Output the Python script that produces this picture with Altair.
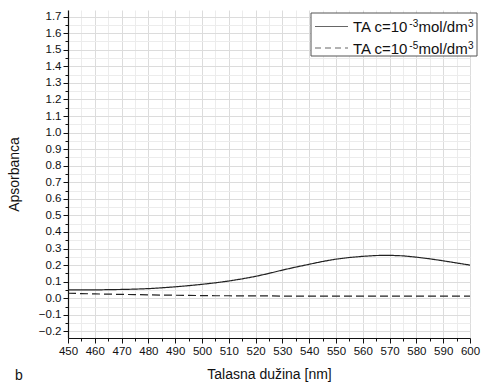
import altair as alt
import pandas as pd

wavelength = [450, 455, 460, 465, 470, 475, 480, 485, 490, 495, 500, 505, 510, 515, 520, 525,
              530, 535, 540, 545, 550, 555, 560, 565, 570, 575, 580, 585, 590, 595, 600]
abs_1e3 = [0.050, 0.051, 0.050, 0.052, 0.053, 0.055, 0.058, 0.063, 0.069, 0.076, 0.084, 0.093,
           0.104, 0.117, 0.132, 0.150, 0.170, 0.188, 0.205, 0.222, 0.236, 0.246, 0.253, 0.258,
           0.259, 0.256, 0.248, 0.238, 0.226, 0.213, 0.200]
abs_1e5 = [0.030, 0.028, 0.026, 0.025, 0.023, 0.022, 0.020, 0.019, 0.018, 0.017, 0.016, 0.015,
           0.015, 0.014, 0.014, 0.014, 0.013, 0.013, 0.013, 0.013, 0.013, 0.013, 0.013, 0.013,
           0.013, 0.013, 0.013, 0.013, 0.013, 0.013, 0.013]
series_names = ["TA c=10-3 mol/dm3", "TA c=10-5 mol/dm3"]
legend_main = "TA c=10"
legend_sup = ["-3", "-5"]
legend_unit = "mol/dm"
legend_unit_sup = "3"

x_ticks = list(range(450, 605, 5))
y_ticks = [round(-0.2 + 0.05 * i, 2) for i in range(39)]

rows = []
for w, a, b in zip(wavelength, abs_1e3, abs_1e5):
    rows.append({"wl": w, "abs": a, "series": series_names[0]})
    rows.append({"wl": w, "abs": b, "series": series_names[1]})
df = pd.DataFrame(rows)

FONT = "Liberation Sans"
TXT = "#111111"

x_enc = alt.X("wl:Q", scale=alt.Scale(domain=[450, 600], nice=False, zero=False),
              axis=alt.Axis(values=x_ticks, title="Talasna dužina [nm]",
                            labelExpr="datum.value % 10 == 0 ? datum.label : ''",
                            format="d", labelOverlap=False, labelFlush=False,
                            tickSize={"condition": {"test": "datum.value % 10 == 0", "value": 5}, "value": 3},
                            gridColor={"condition": {"test": "datum.value % 10 == 0", "value": "#dcdcdc"}, "value": "#ececec"},
                            titlePadding=11))
y_enc = alt.Y("abs:Q", scale=alt.Scale(domain=[-0.24, 1.74], nice=False, zero=False),
              axis=alt.Axis(values=y_ticks, title="Apsorbanca", format=".1f",
                            labelOverlap=False, labelFlush=False,
                            labelExpr="round(datum.value*100) % 10 == 0 ? datum.label : ''",
                            tickSize={"condition": {"test": "round(datum.value*100) % 10 == 0", "value": 5}, "value": 3},
                            gridColor={"condition": {"test": "round(datum.value*100) % 10 == 0", "value": "#dcdcdc"}, "value": "#ececec"},
                            titlePadding=17))

lines = alt.Chart(df).mark_line(strokeWidth=1.2, color="#222222").encode(
    x=x_enc,
    y=y_enc,
    strokeDash=alt.StrokeDash("series:N",
                              scale=alt.Scale(domain=series_names, range=[[1, 0], [8, 4]]),
                              legend=None),
    detail="series:N",
)

one = pd.DataFrame({"k": [0]})

# legend (drawn manually to get real superscripts)
LX0, LX1, LY0, LY1 = 243, 409, 3, 46
box = alt.Chart(one).mark_rect(fill="white", stroke="#555555", strokeWidth=1).encode(
    x=alt.value(LX0), x2=alt.value(LX1), y=alt.value(LY0), y2=alt.value(LY1))

layers = [lines, box]
row_y = [16.5, 38]
dashes = [[1, 0], [6, 4]]
for i in range(2):
    ry = row_y[i]
    layers.append(alt.Chart(one).mark_rule(color="#666666", strokeWidth=1.2, strokeDash=dashes[i]).encode(
        x=alt.value(247), x2=alt.value(280), y=alt.value(ry)))
    base_y = ry + 5.5
    tx = 285
    layers.append(alt.Chart(one).mark_text(font=FONT, fontSize=15, align="left", baseline="alphabetic", color=TXT)
                  .encode(text=alt.value(legend_main), x=alt.value(tx), y=alt.value(base_y)))
    tx += 56.3
    layers.append(alt.Chart(one).mark_text(font=FONT, fontSize=10, align="left", baseline="alphabetic", color=TXT)
                  .encode(text=alt.value(legend_sup[i]), x=alt.value(tx), y=alt.value(base_y - 5)))
    tx += 9.2
    layers.append(alt.Chart(one).mark_text(font=FONT, fontSize=15, align="left", baseline="alphabetic", color=TXT)
                  .encode(text=alt.value(legend_unit), x=alt.value(tx), y=alt.value(base_y)))
    tx += 49.4
    layers.append(alt.Chart(one).mark_text(font=FONT, fontSize=10, align="left", baseline="alphabetic", color=TXT)
                  .encode(text=alt.value(legend_unit_sup), x=alt.value(tx), y=alt.value(base_y - 5)))

b_label = alt.Chart(one).mark_text(
    font=FONT, fontSize=14, align="left", baseline="middle", color=TXT
).encode(text=alt.value("b"), x=alt.value(-53), y=alt.value(366))
layers.append(b_label)

chart = alt.layer(*layers).properties(
    width=402, height=328,
    autosize=alt.AutoSizeParams(type="none"),
    padding={"left": 68, "top": 10, "right": 11, "bottom": 46},
    background="white",
).configure_view(stroke=None).configure_axis(
    labelFont=FONT, titleFont=FONT, labelFontSize=11.5, titleFontSize=14,
    titleFontWeight="normal", labelColor=TXT, titleColor=TXT,
    domainColor="#111111", tickColor="#111111", domainWidth=1.2, tickWidth=1,
    gridWidth=1, labelPadding=2,
)

chart.save("out.html", embed_options={"renderer": "svg", "actions": False})
